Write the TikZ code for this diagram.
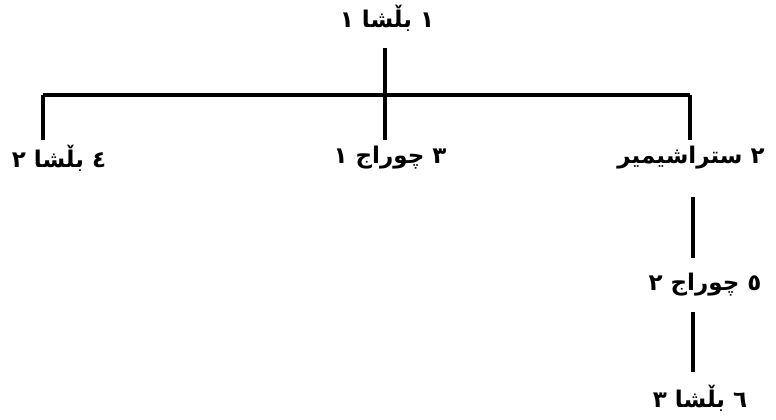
\documentclass[tikz,border=0pt]{standalone}
\usepackage{fontspec}
\TeXXeTstate=1
\newfontfamily\arabicfont[Script=Arabic]{DejaVu Sans}
\tikzset{
  lbl/.style={font=\arabicfont\bfseries\fontsize{23}{26}\selectfont, inner sep=1pt, anchor=center},
  ln/.style={line width=3.2pt, black}
}
\begin{document}
\begin{tikzpicture}[x=1pt,y=-1pt]
\useasboundingbox (0,0) rectangle (776,420);
\node[lbl] (n1) at (387,18) {\beginR ١ بڵشا ١\endR};
\node[lbl] (n2) at (691,158) {\beginR ٢ ستراشيمير\endR};
\node[lbl] (n3) at (390,158) {\beginR ٣ چوراج ١\endR};
\node[lbl] (n4) at (59,158) {\beginR ٤ بڵشا ٢\endR};
\node[lbl] (n5) at (705,285) {\beginR ٥ چوراج ٢\endR};
\node[lbl] (n6) at (700,398) {\beginR ٦ بڵشا ٣\endR};
\coordinate (t1) at (385,48);
\coordinate (b3) at (385,140);
\coordinate (hl) at (43,95);
\coordinate (hr) at (690,95);
\coordinate (b4) at (43,140);
\coordinate (b2) at (690,140);
\coordinate (t5) at (693,197);
\coordinate (b5) at (693,258);
\coordinate (t6) at (693,312);
\coordinate (b6) at (693,372);
\draw[ln] (t1) -- (b3);
\draw[ln] (hl) -- (hr);
\draw[ln] (hl) -- (b4);
\draw[ln] (hr) -- (b2);
\draw[ln] (t5) -- (b5);
\draw[ln] (t6) -- (b6);
\end{tikzpicture}
\end{document}
